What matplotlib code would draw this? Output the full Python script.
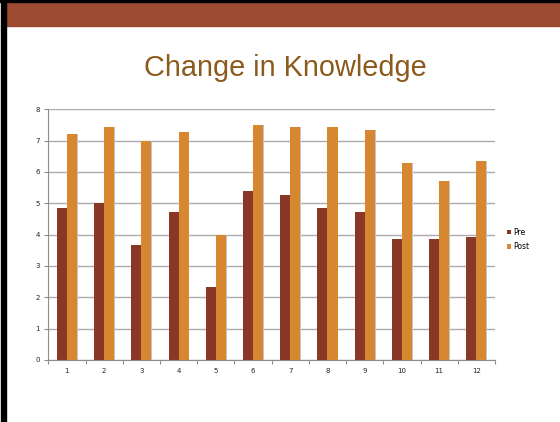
import matplotlib
matplotlib.use("Agg")
import matplotlib.pyplot as plt
import numpy as np
from matplotlib.patches import Rectangle

categories = ["1", "2", "3", "4", "5", "6", "7", "8", "9", "10", "11", "12"]
pre = [4.86, 5.0, 3.67, 4.73, 2.33, 5.40, 5.27, 4.86, 4.72, 3.87, 3.87, 3.93]
post = [7.21, 7.43, 6.99, 7.28, 3.99, 7.50, 7.43, 7.43, 7.35, 6.29, 5.71, 6.36]
series_names = ["Pre", "Post"]
title = "Change in Knowledge"

W, H = 560, 422
fig = plt.figure(figsize=(W / 100, H / 100), dpi=100)
fig.patch.set_facecolor("white")

# frame decorations
fig.add_artist(Rectangle((1 / W, 0), 5 / W, 1, transform=fig.transFigure, color="black", zorder=5))
fig.add_artist(Rectangle((0, 1 - 2 / H), 1, 2 / H, transform=fig.transFigure, color="black", zorder=5))
fig.add_artist(Rectangle((6 / W, 1 - 26 / H), 1, 24 / H, transform=fig.transFigure, color="#9C4A32", zorder=4))

fig.text(285 / W, 1 - 68 / H, title, ha="center", va="center", fontsize=20.8,
         color="#8C5A1C", family="Liberation Sans")

ax = fig.add_axes([48.3 / W, 1 - 360 / H, (495 - 48.3) / W, (360 - 109.3) / H])
x = np.arange(len(categories))
bw = 0.27
c_pre = "#8A3826"
c_post = "#D6872F"
# subtle shadows
ax.bar(x - bw / 2 + 0.02, pre, bw, color="#c4c4c4", zorder=2)
ax.bar(x + bw / 2 + 0.02, post, bw, color="#c4c4c4", zorder=2)
b1 = ax.bar(x - bw / 2, pre, bw, color=c_pre, zorder=3, label=series_names[0])
b2 = ax.bar(x + bw / 2, post, bw, color=c_post, zorder=3, label=series_names[1])

ax.set_xlim(-0.5, len(categories) - 0.5)
ax.set_ylim(0, 8)
ax.set_yticks(range(0, 9))
ax.yaxis.grid(True, color="#ababab", linewidth=1.0, zorder=0)
ax.set_axisbelow(True)
ax.set_xticks(x)
ax.set_xticklabels(categories)
ax.set_xticks(np.arange(-0.5, len(categories), 1), minor=True)
ax.tick_params(axis="x", which="major", length=0, labelsize=5, pad=6, colors="#222222")
ax.tick_params(axis="x", which="minor", length=3, color="#8c8c8c", width=0.8)
ax.tick_params(axis="y", length=3, width=0.8, labelsize=5, pad=3, colors="#222222")
ax.tick_params(axis="y", color="#8c8c8c")
for s in ["top", "right"]:
    ax.spines[s].set_visible(False)
for s in ["left", "bottom"]:
    ax.spines[s].set_color("#8c8c8c")
    ax.spines[s].set_linewidth(0.8)

fig.legend(handles=[b1, b2], labels=series_names, loc="center left",
           bbox_to_anchor=(503 / W, 1 - 239.5 / H), frameon=False, fontsize=5.5,
           handlelength=0.6, handleheight=0.6, handletextpad=0.3, labelspacing=0.75,
           borderpad=0)

fig.savefig("out.png", dpi=100)
